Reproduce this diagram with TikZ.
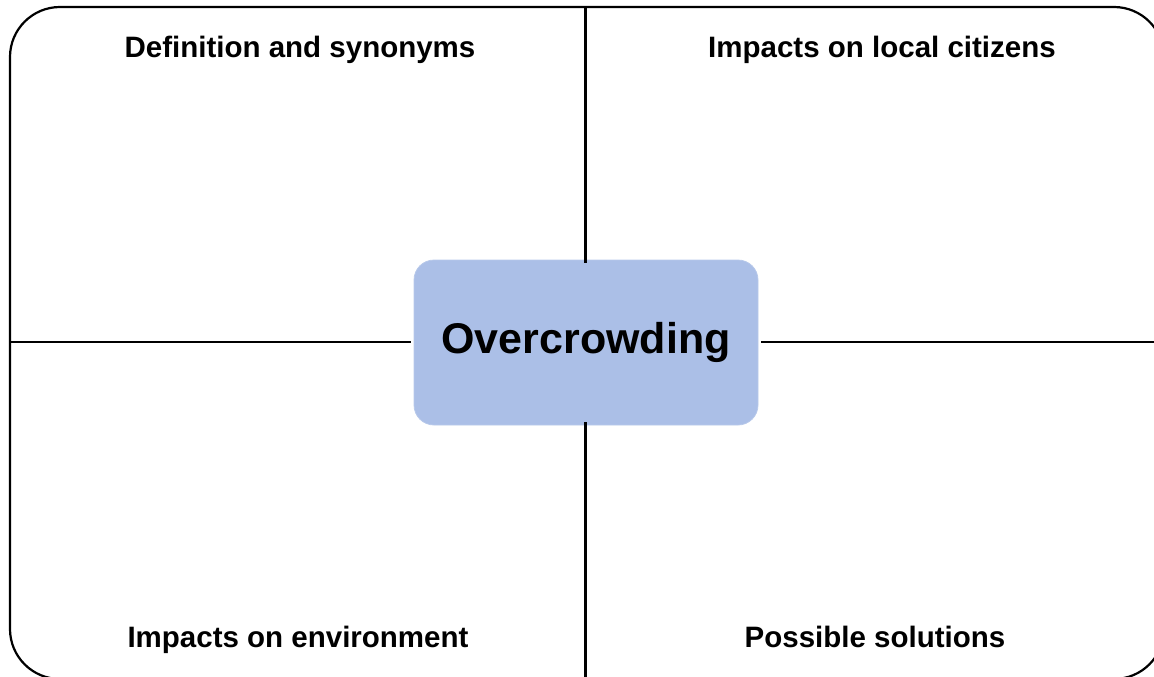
\documentclass[tikz,border=0pt]{standalone}
\usepackage{fontspec}
\setmainfont{Liberation Sans}
\definecolor{boxblue}{HTML}{ABBFE7}
\definecolor{boxedge}{HTML}{B8C9EA}
\begin{document}
\begin{tikzpicture}[x=1pt,y=-1pt,
  frame/.style={draw=black,line width=2.2pt,rounded corners=50pt},
  divider/.style={draw=black,line width=2.2pt},
  title/.style={anchor=base,font=\fontsize{29.5}{34}\selectfont\bfseries,inner sep=0pt},
  centre/.style={fill=boxblue,draw=boxedge,line width=0.8pt,rounded corners=20pt,
    minimum width=344pt,minimum height=165pt,inner sep=0pt,
    font=\fontsize{43}{50}\selectfont\bfseries}]
\useasboundingbox (0,0) rectangle (1154,677);
\clip (0,0) rectangle (1154,677);
\draw[frame] (10,7) rectangle (1164,679);
\node[centre] (c) at (586,342.5) {Overcrowding};
\coordinate (top) at (585.5,7);
\coordinate (bot) at (585.5,677);
\coordinate (lft) at (10,342);
\coordinate (rgt) at (1154,342);
\draw[divider] (top) -- ([yshift=-3pt]c.north -| top);
\draw[divider] (bot) -- ([yshift=3pt]c.south -| bot);
\draw[divider] (lft) -- ([xshift=-3pt]c.west |- lft);
\draw[divider] (rgt) -- ([xshift=3pt]c.east |- rgt);
\node[title] (t1) at (300,58) {Definition and synonyms};
\node[title] (t2) at (882,58) {Impacts on local citizens};
\node[title] (t3) at (298,647) {Impacts on environment};
\node[title] (t4) at (875,647) {Possible solutions};
\end{tikzpicture}
\end{document}
